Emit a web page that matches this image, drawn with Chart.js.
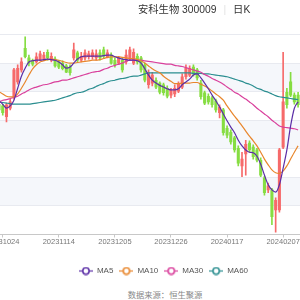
<!DOCTYPE html>
<html>
<head>
<meta charset="utf-8">
<script src="https://cdn.jsdelivr.net/npm/chart.js@4/dist/chart.umd.min.js"></script>
<style>
  html, body { margin: 0; padding: 0; background: #fff; }
  body { width: 300px; height: 300px; overflow: hidden; position: relative;
         font-family: 'Liberation Sans', 'Noto Sans CJK SC', sans-serif; }
  #kline { position: absolute; left: -1px; top: 0; }
  #title { position: absolute; left: 138px; top: 4px; line-height: 12px; font-size: 10.3px; color: #333; white-space: nowrap; }
  #title .sep { color: #e3e3e3; margin: 0 7px; }
  #source { position: absolute; left: 0; width: 330px; top: 289px; line-height: 12px; text-align: center; font-size: 8.3px; color: #888; }
</style>
</head>
<body>
<canvas id="kline" width="329" height="285"></canvas>
<div id="title">安科生物 300009<span class="sep">|</span>日K</div>
<div id="source">数据来源：恒生聚源</div>
<script>
// Daily K-line data (visible window, 20231023 .. 20240221)

const categories = [
    '20231023', '20231024', '20231025', '20231026', '20231027', '20231030', '20231031',
    '20231101', '20231102', '20231103', '20231106', '20231107', '20231108', '20231109', '20231110',
    '20231113', '20231114', '20231115', '20231116', '20231117', '20231120', '20231121', '20231122',
    '20231123', '20231124', '20231127', '20231128', '20231129', '20231130', '20231201', '20231204',
    '20231205', '20231206', '20231207', '20231208', '20231211', '20231212', '20231213', '20231214',
    '20231215', '20231218', '20231219', '20231220', '20231221', '20231222', '20231225', '20231226',
    '20231227', '20231228', '20231229', '20240102', '20240103', '20240104', '20240105', '20240108',
    '20240109', '20240110', '20240111', '20240112', '20240115', '20240116', '20240117', '20240118',
    '20240119', '20240122', '20240123', '20240124', '20240125', '20240126', '20240129', '20240130',
    '20240131', '20240201', '20240202', '20240205', '20240206', '20240207', '20240208', '20240219',
    '20240220', '20240221', '20240222', '20240223', '20240226', '20240227', '20240228', '20240229',
    '20240301', '20240304'
];

const openPrice = [
    7.78, 7.75, 7.56, 7.71, 7.91, 8.17, 8.38, 8.76, 8.59, 8.54, 8.52, 8.55, 8.57, 8.69, 8.55, 8.57,
    8.52, 8.50, 8.45, 8.43, 8.59, 8.68, 8.55, 8.59, 8.61, 8.61, 8.59, 8.68, 8.73, 8.61, 8.64, 8.55,
    8.50, 8.55, 8.52, 8.59, 8.50, 8.62, 8.59, 8.47, 8.12, 8.15, 8.20, 8.15, 8.12, 8.06, 7.94, 7.96,
    8.01, 8.08, 8.26, 8.29, 8.43, 8.38, 8.15, 7.98, 7.92, 7.89, 7.84, 7.63, 7.68, 7.36, 7.29, 7.19,
    7.01, 6.70, 6.91, 7.10, 7.03, 6.98, 6.80, 6.49, 6.28, 6.28, 5.93, 5.93, 7.03, 7.99, 8.17, 7.94,
    7.94
];
const highPrice = [
    7.82, 7.78, 7.80, 7.87, 8.41, 8.47, 8.59, 8.96, 8.64, 8.57, 8.68, 8.71, 8.69, 8.73, 8.68, 8.61,
    8.55, 8.54, 8.48, 8.47, 8.85, 8.71, 8.69, 8.73, 8.71, 8.73, 8.73, 8.73, 8.78, 8.73, 8.68, 8.59,
    8.62, 8.59, 8.73, 8.78, 8.75, 8.66, 8.62, 8.50, 8.38, 8.34, 8.24, 8.17, 8.15, 8.10, 8.06, 8.12,
    8.17, 8.31, 8.47, 8.45, 8.47, 8.41, 8.20, 8.01, 7.96, 7.92, 7.87, 7.77, 7.71, 7.40, 7.33, 7.22,
    7.05, 6.94, 7.15, 7.14, 7.07, 7.01, 6.84, 6.52, 6.40, 6.31, 6.14, 7.01, 8.69, 8.06, 8.34, 7.98,
    7.99
];
const lowPrice = [
    7.64, 7.59, 7.47, 7.68, 7.87, 8.13, 8.34, 8.59, 8.45, 8.45, 8.50, 8.54, 8.54, 8.55, 8.52, 8.43,
    8.40, 8.38, 8.33, 8.29, 8.55, 8.52, 8.52, 8.55, 8.57, 8.57, 8.55, 8.55, 8.59, 8.59, 8.48, 8.43,
    8.47, 8.34, 8.48, 8.55, 8.47, 8.48, 8.34, 8.17, 8.06, 8.10, 8.05, 7.96, 7.94, 7.89, 7.89, 7.91,
    7.98, 8.05, 8.22, 8.26, 8.27, 8.20, 7.87, 7.77, 7.78, 7.73, 7.64, 7.54, 7.24, 7.19, 7.08, 6.94,
    6.70, 6.51, 6.54, 6.94, 6.82, 6.77, 6.51, 6.19, 6.23, 5.67, 5.54, 5.89, 7.00, 7.71, 7.91, 7.78,
    7.73
];
const closePrice = [
    7.68, 7.63, 7.77, 7.82, 8.38, 8.41, 8.52, 8.61, 8.50, 8.48, 8.61, 8.66, 8.64, 8.59, 8.62, 8.45,
    8.43, 8.40, 8.34, 8.33, 8.73, 8.55, 8.62, 8.68, 8.66, 8.68, 8.66, 8.59, 8.62, 8.68, 8.50, 8.47,
    8.59, 8.38, 8.64, 8.73, 8.69, 8.52, 8.38, 8.20, 8.33, 8.29, 8.08, 7.99, 7.98, 7.92, 8.03, 8.06,
    8.13, 8.26, 8.41, 8.41, 8.31, 8.24, 7.91, 7.80, 7.82, 7.77, 7.68, 7.73, 7.28, 7.24, 7.12, 6.98,
    6.75, 6.82, 7.08, 6.98, 6.86, 6.80, 6.54, 6.23, 6.35, 5.81, 6.10, 6.98, 7.82, 7.77, 7.94, 7.82,
    7.77
];

// moving averages
const ma5 = [
    7.84, 7.78, 7.71, 7.75, 7.85, 8.06, 8.27, 8.41, 8.52, 8.54, 8.55, 8.55, 8.56, 8.57, 8.56, 8.55,
    8.52, 8.47, 8.41, 8.43, 8.50, 8.57, 8.61, 8.62, 8.62, 8.62, 8.62, 8.62, 8.63, 8.64, 8.64, 8.61,
    8.59, 8.57, 8.56, 8.55, 8.55, 8.54, 8.50, 8.40, 8.29, 8.20, 8.15, 8.11, 8.08, 8.05, 8.03, 8.03,
    8.05, 8.12, 8.17, 8.22, 8.29, 8.31, 8.24, 8.15, 8.05, 7.94, 7.84, 7.73, 7.61, 7.49, 7.38, 7.28,
    7.15, 7.05, 6.98, 6.94, 6.93, 6.87, 6.73, 6.54, 6.37, 6.28, 6.24, 6.37, 6.66, 6.98, 7.40, 7.71,
    7.82
];
const ma10 = [
    8.00, 7.96, 7.92, 7.91, 7.91, 7.96, 8.06, 8.17, 8.29, 8.40, 8.47, 8.52, 8.54, 8.56, 8.57, 8.56,
    8.55, 8.53, 8.51, 8.50, 8.50, 8.51, 8.52, 8.53, 8.54, 8.55, 8.55, 8.56, 8.58, 8.60, 8.61, 8.61,
    8.61, 8.60, 8.59, 8.58, 8.58, 8.56, 8.54, 8.50, 8.45, 8.40, 8.36, 8.33, 8.27, 8.22, 8.18, 8.14,
    8.14, 8.15, 8.15, 8.15, 8.16, 8.16, 8.13, 8.10, 8.06, 8.01, 7.96, 7.91, 7.85, 7.75, 7.66, 7.57,
    7.49, 7.40, 7.31, 7.22, 7.14, 7.05, 6.94, 6.82, 6.72, 6.63, 6.58, 6.57, 6.61, 6.70, 6.82, 6.94,
    7.05
];
const ma30 = [
    7.82, 7.85, 7.86, 7.88, 7.90, 7.92, 7.96, 7.99, 8.03, 8.06, 8.08, 8.10, 8.12, 8.13, 8.15, 8.17,
    8.18, 8.20, 8.20, 8.22, 8.24, 8.26, 8.28, 8.30, 8.32, 8.34, 8.35, 8.36, 8.39, 8.41, 8.44, 8.46,
    8.48, 8.50, 8.53, 8.55, 8.55, 8.55, 8.55, 8.54, 8.53, 8.52, 8.51, 8.50, 8.49, 8.48, 8.48, 8.46,
    8.45, 8.44, 8.42, 8.40, 8.38, 8.36, 8.34, 8.30, 8.27, 8.23, 8.20, 8.17, 8.13, 8.08, 8.04, 7.99,
    7.96, 7.91, 7.87, 7.82, 7.77, 7.71, 7.66, 7.61, 7.56, 7.50, 7.45, 7.40, 7.38, 7.37, 7.36, 7.35,
    7.33
];
const ma60 = [
    7.82, 7.81, 7.80, 7.79, 7.78, 7.78, 7.78, 7.78, 7.78, 7.79, 7.80, 7.81, 7.82, 7.83, 7.84, 7.85,
    7.87, 7.89, 7.91, 7.93, 7.96, 7.98, 7.99, 8.01, 8.04, 8.06, 8.09, 8.12, 8.14, 8.17, 8.19, 8.20,
    8.22, 8.23, 8.24, 8.26, 8.27, 8.27, 8.29, 8.31, 8.33, 8.33, 8.33, 8.33, 8.33, 8.33, 8.33, 8.33,
    8.33, 8.33, 8.33, 8.33, 8.32, 8.32, 8.32, 8.31, 8.31, 8.30, 8.29, 8.28, 8.27, 8.26, 8.24, 8.22,
    8.20, 8.18, 8.15, 8.13, 8.10, 8.06, 8.04, 8.01, 7.99, 7.96, 7.93, 7.91, 7.90, 7.89, 7.88, 7.87,
    7.86
];

// hidden price axis ticks (grid bands)
const priceTicks = [5.5, 6.0, 6.5, 7.0, 7.5, 8.0, 8.5, 9.0];

const UP = '#f66a6a';
const DOWN = '#86dd42';

const candleColors = closePrice.map((c, i) => c >= openPrice[i] ? UP : DOWN);
const bodies = openPrice.map((o, i) => [o, closePrice[i]]);
const wicks = lowPrice.map((l, i) => [l, highPrice[i]]);

// legend marker: short line through a hollow circle
function legendMarker(color) {
    const c = document.createElement('canvas');
    c.width = 14;
    c.height = 9;
    const g = c.getContext('2d');
    g.strokeStyle = color;
    g.lineWidth = 1.2;
    g.beginPath();
    g.moveTo(0, 4.5);
    g.lineTo(14, 4.5);
    g.stroke();
    g.fillStyle = '#fff';
    g.lineWidth = 1.5;
    g.beginPath();
    g.arc(7, 4.5, 3.2, 0, Math.PI * 2);
    g.fill();
    g.stroke();
    return c;
}

// alternating background bands + horizontal grid lines
const bandPlugin = {
    id: 'bands',
    beforeDraw(chart) {
        const { ctx, chartArea: a, scales: { y } } = chart;
        ctx.save();
        ctx.fillStyle = '#f5f7fb';
        for (let k = 1; k < priceTicks.length - 1; k += 2) {
            const top = y.getPixelForValue(priceTicks[k + 1]);
            const bot = y.getPixelForValue(priceTicks[k]);
            ctx.fillRect(a.left, top, a.right - a.left, bot - top);
        }
        ctx.strokeStyle = '#e8eaf0';
        ctx.lineWidth = 1;
        priceTicks.slice(1).forEach(v => {
            const py = Math.floor(y.getPixelForValue(v)) + 0.5;
            ctx.beginPath();
            ctx.moveTo(a.left, py);
            ctx.lineTo(a.right, py);
            ctx.stroke();
        });
        ctx.restore();
    }
};

const maSeries = [
    { label: 'MA5', data: ma5, color: '#5b2ea6' },
    { label: 'MA10', data: ma10, color: '#e8862c' },
    { label: 'MA30', data: ma30, color: '#d9409c' },
    { label: 'MA60', data: ma60, color: '#2b8e90' }
];

Chart.defaults.font.family = "'Liberation Sans', 'Noto Sans CJK SC', sans-serif";

const chart = new Chart(document.getElementById('kline'), {
    type: 'bar',
    data: {
        labels: categories,
        datasets: [
            ...maSeries.map(s => ({
                type: 'line',
                label: s.label,
                data: s.data,
                borderColor: s.color,
                backgroundColor: s.color,
                borderWidth: 1.2,
                pointRadius: 0,
                pointStyle: legendMarker(s.color),
                cubicInterpolationMode: 'monotone',
                order: 0
            })),
            {
                label: 'wick',
                data: wicks,
                backgroundColor: candleColors,
                barThickness: 1,
                grouped: false,
                order: 2
            },
            {
                label: 'body',
                data: bodies,
                backgroundColor: candleColors,
                barThickness: 2.4,
                grouped: false,
                order: 1
            }
        ]
    },
    options: {
        responsive: false,
        animation: false,
        layout: { padding: { top: 34.5, left: 0, right: 0, bottom: 0 } },
        plugins: {
            legend: {
                position: 'bottom',
                labels: {
                    usePointStyle: true,
                    pointStyleWidth: 14,
                    boxHeight: 8,
                    padding: 6,
                    color: '#555',
                    font: { size: 8 },
                    filter: item => item.datasetIndex < 4
                }
            },
            tooltip: { enabled: false }
        },
        scales: {
            x: {
                type: 'category',
                offset: false,
                grid: { display: true, offset: false, drawOnChartArea: false, drawTicks: true, tickLength: 3, color: '#c8c8c8' },
                border: { display: true, color: '#c8c8c8' },
                ticks: { autoSkip: false, maxRotation: 0, minRotation: 0, padding: 0, color: '#777', font: { size: 7.5 } },
                // one label every 15 trading days
                afterBuildTicks: scale => {
                    scale.ticks = scale.ticks.filter(t => (t.value - 1) % 15 === 0);
                },
                afterFit: scale => {
                    scale.paddingLeft = 0;
                    scale.paddingRight = 0;
                    scale.height += 14.5;
                }
            },
            y: { display: false, min: 5.5, max: 9.0 }
        }
    },
    plugins: [bandPlugin]
});
</script>
</body>
</html>
